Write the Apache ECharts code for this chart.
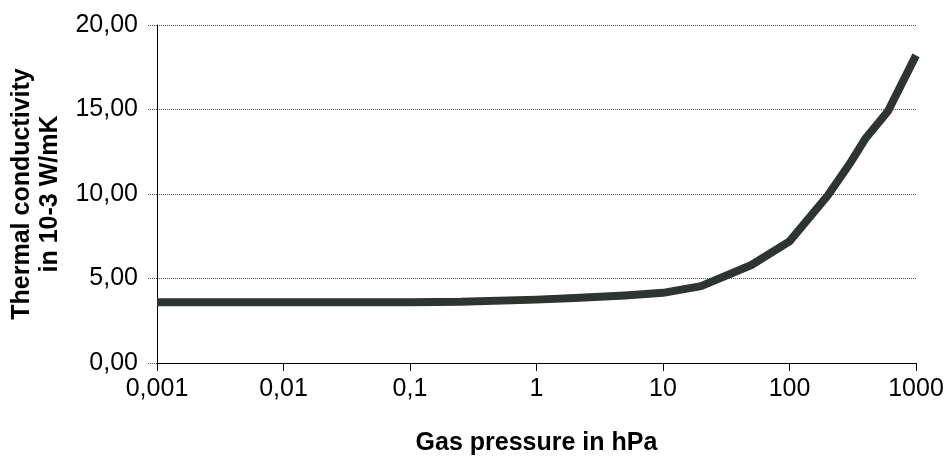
<!DOCTYPE html>
<html>
<head>
<meta charset="utf-8">
<script src="https://cdn.jsdelivr.net/npm/echarts@6/dist/echarts.min.js"></script>
<style>
html,body{margin:0;padding:0;background:#fff;}
#chart{width:949px;height:470px;}
</style>
</head>
<body>
<div id="chart"></div>
<script>
// Gas pressure (hPa) and thermal conductivity (10-3 W/mK)
const pressure = [0.001, 0.01, 0.1, 0.25, 1, 2, 5, 10, 20, 50, 100, 200, 300, 400, 600, 1000];
const conductivity = [3.6, 3.6, 3.6, 3.62, 3.75, 3.85, 4.0, 4.15, 4.55, 5.8, 7.2, 9.9, 11.8, 13.3, 14.9, 18.2];
const xTickLabels = ['0,001', '0,01', '0,1', '1', '10', '100', '1000'];
const yTicks = [0, 5, 10, 15, 20];

const FONT = "'Liberation Sans', Arial, sans-serif";
const chart = echarts.init(document.getElementById('chart'), null, {renderer: 'canvas'});
chart.setOption({
  animation: false,
  backgroundColor: '#ffffff',
  grid: {left: 157, right: 33, top: 25, bottom: 107, containLabel: false},
  xAxis: {
    type: 'log',
    logBase: 10,
    min: 0.001,
    max: 1000,
    name: 'Gas pressure in hPa',
    nameLocation: 'middle',
    nameGap: 68,
    nameTextStyle: {fontFamily: FONT, fontWeight: 'bold', fontSize: 25, color: '#000'},
    axisLine: {lineStyle: {color: '#000', width: 1}},
    axisTick: {show: true, length: 8, inside: false, lineStyle: {color: '#000'}},
    axisLabel: {
      fontFamily: FONT, fontSize: 25, color: '#000', margin: 14,
      formatter: function (v) {
        const i = Math.round(Math.log10(v)) + 3;
        return xTickLabels[i] !== undefined ? xTickLabels[i] : '';
      }
    },
    splitLine: {show: false},
    minorTick: {show: false}
  },
  yAxis: {
    type: 'value',
    min: yTicks[0],
    max: yTicks[yTicks.length - 1],
    interval: 5,
    name: 'Thermal conductivity\nin 10-3 W/mK',
    nameLocation: 'middle',
    nameGap: 92,
    nameTextStyle: {fontFamily: FONT, fontWeight: 'bold', fontSize: 25, color: '#000', lineHeight: 28},
    axisLine: {show: true, lineStyle: {color: '#000', width: 1}},
    axisTick: {show: true, length: 9, lineStyle: {color: '#555', type: 'dotted'}},
    axisLabel: {
      fontFamily: FONT, fontSize: 25, color: '#000', margin: 19,
      formatter: function (v) { return v.toFixed(2).replace('.', ','); }
    },
    splitLine: {show: true, lineStyle: {color: '#555', type: [1, 1], width: 1}}
  },
  series: [{
    type: 'line',
    data: pressure.map((p, i) => [p, conductivity[i]]),
    showSymbol: false,
    smooth: false,
    lineStyle: {color: '#2d3530', width: 8, cap: 'butt', join: 'round'}
  }]
});
</script>
</body>
</html>
